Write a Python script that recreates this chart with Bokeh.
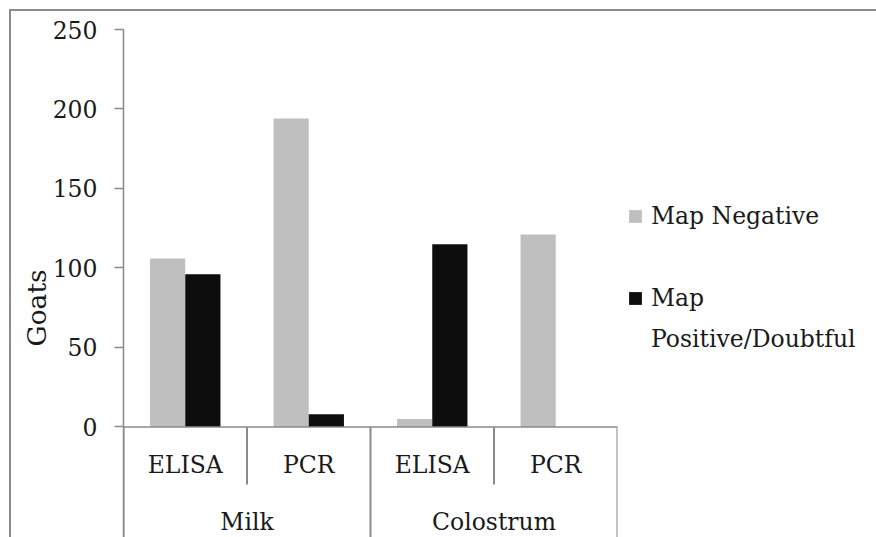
from bokeh.plotting import figure
from bokeh.models import (FactorRange, Range1d, FixedTicker, Span, Legend, LegendItem,
                          Title, ColumnDataSource)
from bokeh.transform import dodge
from bokeh.core.properties import value
from bokeh.embed import file_html
from bokeh.resources import INLINE

# Goats by sample type and test
samples = ["Milk", "Milk", "Colostrum", "Colostrum"]
tests = ["ELISA", "PCR", "ELISA", "PCR"]
map_negative = [106, 194, 5, 121]
map_positive_doubtful = [96, 8, 115, 0]
y_ticks = [0, 50, 100, 150, 200, 250]
legend_lines = ["Map Negative", " ", "Map", "Positive/Doubtful"]
y_title = "Goats"

FONT = "DejaVu Serif"
FONT_SIZE = "23.5px"
TITLE_SIZE = "26.5px"
TEXT_COLOR = "#1a1a1a"
GREY_LINE = "#8a8a8a"
NEG_COLOR = "#bfbfbf"
POS_COLOR = "#0d0d0d"

Y_BOTTOM = -69.5        # frame extends below zero to hold the category labels
TEST_DROP = -36.2       # depth of the separators between tests
TEST_LABEL_Y = -24.2
GROUP_LABEL_Y = -59.9
BAR_W = 0.285

factors = list(zip(samples, tests))
src = ColumnDataSource(dict(x=factors, neg=map_negative, pos=map_positive_doubtful))

p = figure(frame_width=494, frame_height=508,
           x_range=FactorRange(*factors, range_padding=0, factor_padding=0, group_padding=0),
           y_range=Range1d(Y_BOTTOM, 250),
           output_backend="svg", toolbar_location=None, x_axis_location=None,
           min_border_left=112, min_border_right=259, min_border_top=18, min_border_bottom=0)
# chart border along the top and left edges
p.margin = (9, 0, 0, 9)
p.styles = {"border-top": "2px solid #8c8c8c", "border-left": "2px solid #8c8c8c"}
p.outline_line_color = None
p.background_fill_color = "white"
p.border_fill_color = "white"
p.grid.visible = False

# value axis
ax = p.yaxis[0]
ax.ticker = FixedTicker(ticks=y_ticks)
ax.axis_line_color = GREY_LINE
ax.axis_line_width = 1.5
ax.major_tick_line_color = GREY_LINE
ax.major_tick_line_width = 1.5
ax.major_tick_in = 0
ax.major_tick_out = 9
ax.minor_tick_line_color = None
ax.major_label_standoff = 17
ax.major_label_text_font = FONT
ax.major_label_text_font_size = FONT_SIZE
ax.major_label_text_color = TEXT_COLOR

# axis title, shifted down along the value axis
p.add_layout(Title(text=y_title, align="left", offset=191, standoff=-5,
                   text_font=FONT, text_font_size=TITLE_SIZE, text_font_style="normal",
                   text_color=TEXT_COLOR), "left")

# bars
r_neg = p.vbar(x=dodge("x", -BAR_W / 2, range=p.x_range), top="neg", width=BAR_W,
               source=src, fill_color=NEG_COLOR, line_color=None)
r_pos = p.vbar(x=dodge("x", BAR_W / 2, range=p.x_range), top="pos", width=BAR_W,
               source=src, fill_color=POS_COLOR, line_color=None)
# swatch-less entries for the spacer and the wrapped second line of the legend
r_blank = p.vbar(x=[], top=[], width=BAR_W, fill_alpha=0, line_alpha=0)

# category axis baseline
p.add_layout(Span(location=0, dimension="width", line_color=GREY_LINE, line_width=1.5))

# separators between tests and between sample groups
sep_x, sep_bottom = [], []
for i, (s, t) in enumerate(factors):
    new_group = i == 0 or factors[i - 1][0] != s
    sep_x.append((s, t, -0.5))
    sep_bottom.append(Y_BOTTOM if new_group else TEST_DROP)
sep_x.append((factors[-1][0], factors[-1][1], 0.5))
sep_bottom.append(Y_BOTTOM)
p.segment(x0=sep_x, x1=sep_x, y0=[0] * len(sep_x), y1=sep_bottom,
          line_color=GREY_LINE, line_width=2)

# test labels
p.text(x=factors, y=[TEST_LABEL_Y] * len(factors), text=tests,
       text_font=value(FONT), text_font_size=value(FONT_SIZE), text_color=TEXT_COLOR,
       text_align="center", text_baseline="middle")

# group labels, centred under each group's tests
groups = {}
for s, t in factors:
    groups.setdefault(s, []).append(t)
group_x = [(s, ts[0], (len(ts) - 1) / 2) for s, ts in groups.items()]
p.text(x=group_x, y=[GROUP_LABEL_Y] * len(group_x), text=list(groups),
       text_font=value(FONT), text_font_size=value(FONT_SIZE), text_color=TEXT_COLOR,
       text_align="center", text_baseline="middle")

# legend beside the plot
legend_renderers = [r_neg, r_blank, r_pos, r_blank]
legend = Legend(items=[LegendItem(label=t, renderers=[r])
                       for t, r in zip(legend_lines, legend_renderers)],
                location=(10, 178), padding=0, margin=0, spacing=0,
                label_height=41, glyph_width=16, glyph_height=16, label_standoff=8,
                border_line_color=None, background_fill_alpha=0,
                label_text_font=FONT, label_text_font_size=FONT_SIZE,
                label_text_color=TEXT_COLOR)
p.add_layout(legend, "right")

open("out.html", "w").write(file_html(p, INLINE))
